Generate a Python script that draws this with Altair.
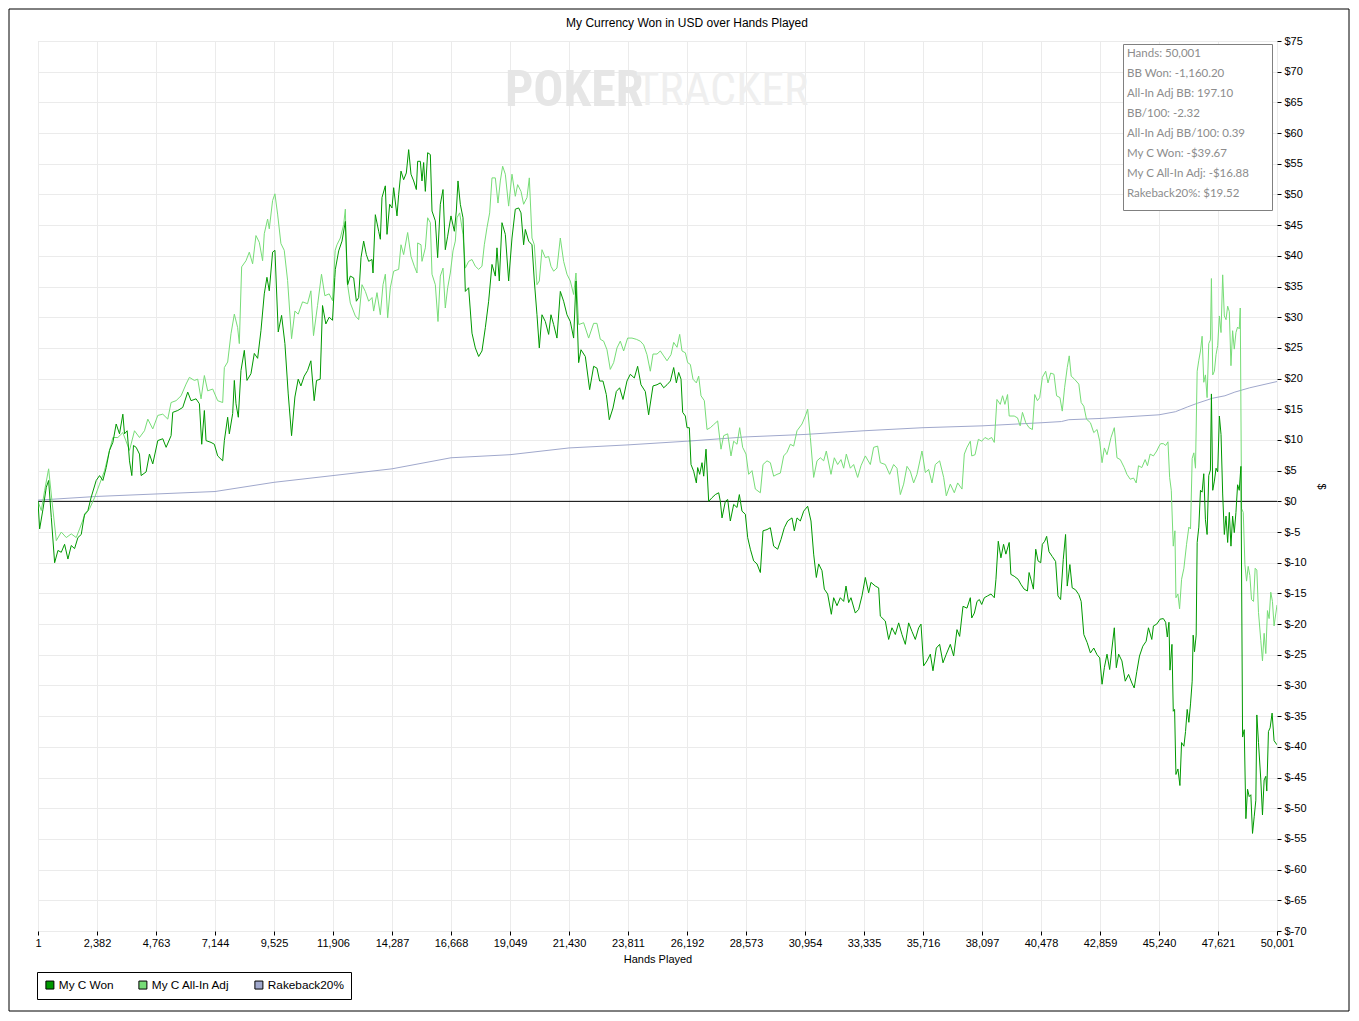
import altair as alt
import pandas as pd

series_names = ["My C Won", "My C All-In Adj", "Rakeback20%"]
series_colors = ["#009900", "#77DD77", "#A0A8CC"]

x_ticks = [1, 2382, 4763, 7144, 9525, 11906, 14287, 16668, 19049, 21430, 23811,
           26192, 28573, 30954, 33335, 35716, 38097, 40478, 42859, 45240, 47621, 50001]
y_ticks = list(range(-70, 80, 5))

stats_lines = ["Hands: 50,001", "BB Won: -1,160.20", "All-In Adj BB: 197.10", "BB/100: -2.32",
               "All-In Adj BB/100: 0.39", "My C Won: -$39.67", "My C All-In Adj: -$16.88",
               "Rakeback20%: $19.52"]

# (hands, dollars)
won_points = [
    (1, 0), (67, -4.5), (201, -1.3), (336, 2.3), (430, 3.4), (537, -2.6), (672, -10), (806, -8), (940, -8.3),
    (1074, -7), (1209, -9.4), (1343, -7.2), (1477, -7.7), (1612, -5.9), (1746, -5.4), (1880, -2.1), (2015, -1.5),
    (2149, 0.7), (2350, 3.4), (2485, 4.2), (2619, 3.4), (2753, 5.5), (2887, 8.3), (3022, 9.6), (3156, 12.6),
    (3290, 11), (3425, 14.2), (3492, 11), (3599, 11.5), (3693, 6.6), (3787, 4.2), (3854, 9.1), (3962, 8.8),
    (4096, 7.7), (4163, 4.2), (4365, 4.8), (4499, 7.7), (4633, 6.1), (4835, 9.9), (5036, 10.2), (5171, 8.8),
    (5372, 10.7), (5439, 14.5), (5641, 14.8), (5842, 15.3), (6044, 17.8), (6178, 16.4), (6379, 16.7), (6514, 15.9),
    (6608, 9.3), (6715, 14.8), (6782, 9.9), (6984, 9.6), (7118, 9.3), (7252, 7.4), (7454, 6.6), (7521, 9.9),
    (7655, 13.7), (7722, 11), (7857, 14.3), (7924, 19.7), (7991, 15.9), (8085, 13.7), (8192, 21.3), (8327, 24.6),
    (8434, 19.7), (8595, 20.8), (8730, 24.1), (8864, 23.3), (8998, 27.8), (9132, 33.8), (9240, 36.5), (9334, 34.3),
    (9468, 40.6), (9562, 40.9), (9696, 27.6), (9831, 30.3), (9965, 25.7), (10099, 17.5), (10234, 10.7), (10368, 17),
    (10502, 19.9), (10610, 18.8), (10744, 20.4), (10878, 21.3), (11013, 22.9), (11147, 16.4), (11241, 19.7),
    (11389, 19.9), (11483, 31.9), (11617, 28.9), (11751, 30), (11886, 29.5), (11980, 36.5),
    (12000, 37.8), (12135, 40.8), (12269, 42.4), (12404, 45.6), (12498, 35.3), (12605, 36.7), (12740, 36.4),
    (12848, 32.6), (12942, 33.2), (13036, 39.7), (13143, 42.4), (13251, 40.2), (13345, 39.1), (13480, 39.4),
    (13520, 37.2), (13614, 46.7), (13749, 44), (13816, 42.7), (13883, 49.5), (14018, 51.4), (14085, 43.5),
    (14193, 48.4), (14287, 47.8), (14354, 51.1), (14488, 46.5), (14556, 50), (14650, 53.8), (14757, 52.4),
    (14865, 53.5), (14959, 57.3), (15053, 53.3), (15161, 52.2), (15269, 50.8), (15322, 55.4), (15430, 55.4),
    (15497, 52.2), (15564, 55.2), (15632, 50.5), (15726, 56.8), (15834, 56.5), (15901, 47.3), (16035, 45.7),
    (16129, 39.7), (16237, 48.4), (16345, 50.8), (16438, 41), (16533, 43.2), (16667, 46.5), (16802, 44),
    (16883, 47.3), (16950, 52.2), (17044, 48.4), (17152, 46.2), (17246, 34.2), (17380, 34.8), (17515, 27.4),
    (17649, 25), (17784, 23.6), (17918, 24.5), (18053, 28.3), (18187, 32.6), (18322, 38.6), (18456, 36.7),
    (18523, 41.3), (18617, 35.9), (18725, 45.4), (18860, 43.5), (18994, 35.9), (19129, 42.9), (19263, 47.6),
    (19398, 47.8), (19492, 47), (19599, 41.8), (19667, 44.3), (19801, 42.4), (19936, 41.8), (20030, 35.9),
    (20137, 30.4), (20231, 25), (20339, 30.4), (20474, 29.3), (20608, 27.2), (20702, 30.4), (20810, 28.8),
    (20944, 26.6), (21079, 34.2), (21213, 32.6), (21348, 30.4), (21482, 29.3), (21617, 26.6), (21711, 35.9),
    (21819, 22.6), (21913, 24.7), (22088, 23.6), (22263, 18.2), (22424, 22), (22558, 21.7), (22666, 19.6),
    (22801, 19.6), (22935, 17.4), (23056, 13.3), (23204, 15.2), (23339, 17.9), (23473, 18.5), (23608, 16.6),
    (23769, 19.6), (23904, 20.7), (24065, 20.1), (24199, 22), (24334, 19), (24509, 17.9), (24643, 14.1),
    (24820, 18.8), (24982, 19), (25116, 19.3), (25251, 18.5), (25385, 19), (25520, 19.6), (25654, 21.8),
    (25762, 19.3), (25856, 21), (25950, 19.9), (26017, 14.5), (26125, 13.9), (26192, 12), (26286, 12),
    (26353, 6), (26461, 4.9), (26569, 3), (26622, 5.5), (26703, 4.4), (26797, 6.3), (26865, 4.1), (26959, 8.5),
    (27066, 0), (27201, 0.6), (27335, 1.1), (27470, 1.4), (27537, 0), (27604, -2.7), (27739, 0), (27833, 0.3),
    (27940, -3.2), (28075, -0.5), (28210, -1), (28304, 1.1), (28411, -1.6), (28546, -2.1), (28640, -5.9),
    (28748, -7.8), (28882, -9.7), (29017, -10.2), (29151, -11.6), (29259, -4.8), (29420, -4.6), (29555, -4.3),
    (29689, -7.3), (29851, -7.8), (29985, -6.2), (30119, -4.3), (30254, -3.2), (30429, -2.7), (30523, -4.8),
    (30631, -2.7), (30765, -3.2), (30900, -1.6), (31061, -0.8), (31195, -3.2), (31303, -8.6), (31411, -12.4),
    (31505, -10.2), (31639, -11.3), (31733, -14.3), (31868, -15.1), (32016, -18.4), (32110, -15.7), (32245, -17),
    (32379, -15.7), (32514, -16.3), (32608, -13.8), (32715, -16.5), (32809, -15.7), (32984, -18.2), (33119, -17.6),
    (33253, -15.4), (33388, -12.4), (33522, -14.9), (33616, -13.2), (33791, -13.8), (33926, -14.1), (33993, -18.7),
    (34194, -19.5), (34329, -22.5), (34463, -20.6), (34598, -21.7), (34733, -19.8), (34867, -21.7), (35002, -23.3),
    (35136, -19.8), (35271, -21.2), (35405, -22.5), (35540, -20.6), (35634, -20), (35742, -26.8), (35876, -26),
    (36011, -24.9), (36118, -27.6), (36253, -23.9), (36387, -23.3), (36522, -26.3), (36656, -24.9), (36818, -23.3),
    (36952, -25.2), (37087, -20.9), (37194, -22), (37329, -17.1), (37490, -17.4), (37625, -15.7),
    (37682, -19), (37789, -18.2), (37896, -16.3), (37990, -16), (38084, -16.8), (38191, -15.7), (38324, -15.4),
    (38458, -15.1), (38592, -15.7), (38659, -12.7), (38753, -6.5), (38860, -9.2), (38967, -7), (39060, -8.6),
    (39194, -6.7), (39261, -11.9), (39395, -12.2), (39555, -12.7), (39663, -13.5), (39796, -14.3), (39930, -14.6),
    (39997, -11.6), (40091, -13), (40171, -14.3), (40265, -7.8), (40358, -9.7), (40465, -10), (40532, -7),
    (40626, -6.5), (40706, -5.7), (40800, -8.2), (40934, -9), (41067, -9.8), (41161, -15.4), (41268, -16),
    (41375, -9.5), (41469, -5.4), (41536, -13.8), (41643, -10.3), (41736, -14.1), (41870, -14.4), (42004, -15.2),
    (42098, -16.3), (42205, -21.7), (42339, -23), (42472, -24.7), (42606, -23.9), (42740, -25), (42847, -25.5),
    (42941, -29.8), (43034, -27.1), (43141, -24.9), (43248, -27.4), (43342, -23.9), (43436, -20.6), (43516, -27.1),
    (43610, -24.9), (43743, -26), (43877, -29.3), (44011, -28.2), (44145, -29.6), (44238, -30.4), (44345, -27.7),
    (44452, -25.2), (44586, -23.6), (44720, -22.8), (44814, -20.6), (44948, -22.5), (45014, -20.3), (45148, -20),
    (45282, -19.2),
    (45414, -19.1), (45508, -19.7), (45575, -22.1), (45641, -19.7), (45682, -27.5), (45762, -23.3), (45815, -34.2),
    (45869, -33.9), (45922, -44.5), (46003, -43.6), (46083, -46.3), (46150, -39.3), (46244, -39.9), (46310, -37.5),
    (46377, -33.9), (46444, -36), (46511, -33), (46578, -29.3), (46618, -21.8), (46672, -24.5), (46739, -21.8),
    (46779, -6.7), (46846, -4.2), (46913, 1.8), (46979, 1.5), (47046, 4.5), (47113, -3), (47180, -5.4),
    (47247, 4.2), (47314, 5.1), (47354, 17.5), (47408, 1.8), (47474, 3.3), (47541, 5.4), (47608, 4.8),
    (47675, 13.9), (47742, 10.9), (47809, 1.2), (47876, -5.4), (47943, -2.4), (48010, -6.7), (48077, -1.8),
    (48143, -7.3), (48210, -2.4), (48277, -5.1), (48344, -1.8), (48411, 2.7), (48478, 1.8), (48545, 5.7),
    (48612, -38.4), (48679, -37.2), (48746, -51.7), (48813, -46.9), (48879, -48.1), (48946, -47.8), (49013, -54.1),
    (49080, -51.4), (49147, -48.7), (49187, -34.8), (49254, -39.3), (49348, -45.4), (49415, -51.1), (49482, -45.4),
    (49549, -44.8), (49589, -47.2), (49656, -37.5), (49723, -36.9), (49803, -34.5), (49883, -39), (50001, -39.67),
]

adj_points = [
    (1, 0), (134, -1.5), (269, 1.8), (430, 5.3), (564, 0.1), (739, -6.4), (940, -5), (1142, -5.9), (1343, -5.3),
    (1544, -5.9), (1679, -4.5), (1880, -2.3), (2082, -1.2), (2283, 0.6), (2485, 2.8), (2686, 5), (2887, 8.3),
    (3022, 10.4), (3223, 10.4), (3425, 11.2), (3693, 8.3), (3895, 11.5), (4096, 10.4), (4298, 11.5), (4432, 13.4),
    (4633, 11.8), (4835, 14), (5036, 14.2), (5238, 13.4), (5372, 16.1), (5573, 16.4), (5775, 17.2), (5976, 19.1),
    (6111, 20.2), (6312, 19.7), (6446, 19.9), (6581, 16.7), (6715, 20.5), (6849, 18), (7051, 18.3), (7252, 16.4),
    (7454, 16.1), (7521, 21.8), (7655, 22.7), (7789, 27.3), (7924, 30.5), (8058, 28.3), (8125, 25.7), (8219, 38.2),
    (8394, 39.2), (8528, 40.6), (8662, 38.7), (8797, 43.3), (8931, 42.2), (9065, 39.2), (9132, 43.6), (9267, 46),
    (9334, 44.4), (9468, 49), (9562, 50.1), (9670, 46.8), (9804, 42), (9938, 40.9), (10073, 36), (10234, 26.5),
    (10368, 31), (10502, 30.5), (10677, 32.5), (10878, 32.2), (11013, 34.3), (11120, 27), (11281, 31.9),
    (11442, 37), (11577, 33.5), (11751, 33.8), (11886, 32.7), (11993, 40.9),
    (12067, 41.8), (12202, 42.9), (12336, 45.1), (12404, 47.6), (12471, 35.9), (12605, 32.3), (12807, 30.2),
    (12942, 29.6), (13076, 35.3), (13211, 34.2), (13345, 32.6), (13480, 33.2), (13547, 31), (13681, 34),
    (13816, 30.4), (13924, 35.3), (14018, 37), (14112, 29.9), (14219, 34.8), (14354, 37.5), (14556, 37.8),
    (14650, 41.8), (14757, 40.2), (14919, 43.8), (15053, 39.9), (15188, 38.3), (15295, 37.2), (15322, 42.1),
    (15457, 41.8), (15497, 39.1), (15632, 41.3), (15726, 46.2), (15834, 45.4), (15901, 37), (16035, 35.3),
    (16143, 29.3), (16237, 36.7), (16345, 38), (16438, 31.5), (16533, 34.8), (16640, 37.2), (16748, 40.8),
    (16842, 42.4), (16909, 46.2), (17017, 47), (17152, 43.5), (17246, 38), (17380, 39.1), (17515, 39.4),
    (17649, 38.3), (17784, 37.8), (17918, 38.3), (18012, 41.8), (18120, 44.6), (18228, 47), (18322, 52.7),
    (18456, 52.7), (18564, 48.6), (18658, 52.2), (18752, 54.6), (18860, 53.3), (18994, 48.1), (19129, 53.3),
    (19263, 49.7), (19357, 51.6), (19492, 50.5), (19599, 48.4), (19734, 49.5), (19828, 52.7), (19936, 42.9),
    (20030, 41.8), (20137, 35.3), (20231, 35.9), (20339, 41), (20474, 39.7), (20608, 39.9), (20702, 38.3),
    (20810, 37.5), (20944, 38), (21079, 42.9), (21213, 39.1), (21348, 37), (21482, 35.9), (21617, 33.7),
    (21711, 37.2), (21819, 28.8), (22020, 29.1), (22222, 26.6), (22424, 29), (22558, 29), (22693, 26.4),
    (22827, 26.1), (22962, 24.7), (23096, 21.5), (23231, 22.6), (23366, 25), (23500, 26.1), (23635, 24.5),
    (23796, 26.6), (23971, 26.6), (24146, 26.4), (24307, 26.1), (24441, 25.5), (24576, 23.9), (24711, 21.2),
    (24820, 24), (24982, 24), (25116, 24.5), (25251, 23.7), (25385, 22.9), (25546, 23.9), (25654, 25.9),
    (25789, 25.1), (25896, 27.2), (25990, 24.5), (26125, 24.2), (26219, 22.6), (26327, 22.3), (26434, 19.9),
    (26569, 19.3), (26663, 20.4), (26757, 17.2), (26891, 16.4), (26999, 11.7), (27133, 12), (27268, 12.5),
    (27429, 13.1), (27564, 8.5), (27672, 10.7), (27833, 11), (27967, 7.4), (28075, 9.8), (28210, 9.3),
    (28317, 12), (28438, 8.8), (28573, 7.7), (28680, 4.4), (28815, 5), (28949, 2), (29151, 1.4), (29259, 6),
    (29420, 6.6), (29555, 6.3), (29689, 4.1), (29824, 4.4), (29958, 4.6), (30093, 7.4), (30227, 8), (30362, 9.3),
    (30496, 9), (30631, 11.5), (30832, 12.6), (30967, 13.9), (31061, 15), (31169, 10.4), (31303, 3.9),
    (31438, 6.6), (31572, 7.1), (31707, 6.6), (31814, 8.2), (32002, 4.4), (32137, 7.1), (32271, 6), (32406, 6.8),
    (32514, 5.4), (32621, 7.7), (32783, 5.4), (32917, 6), (33078, 3.9), (33213, 5.8), (33388, 7.4), (33590, 6),
    (33724, 8.8), (33885, 9), (33993, 6.3), (34194, 6), (34369, 4.4), (34530, 6), (34665, 5.4), (34800, 1.1),
    (34934, 2.8), (35069, 5.7), (35203, 4.9), (35338, 3), (35472, 4.4), (35674, 8.2), (35809, 4.7), (35943, 5.2),
    (36078, 3), (36212, 6), (36387, 6.6), (36549, 3.9), (36656, 0.9), (36818, 2.8), (36979, 1.4), (37114, 3),
    (37289, 2), (37383, 7.7), (37490, 8.8), (37625, 9.8),
    (37682, 7.4), (37816, 7.6), (37950, 10.1), (38084, 9.8), (38217, 10.4), (38351, 10.1), (38485, 10.4),
    (38592, 9.6), (38699, 16.6), (38833, 15.8), (38927, 17.2), (39020, 15.8), (39127, 17.4), (39194, 13.9),
    (39395, 13.9), (39529, 13.6), (39636, 12.3), (39729, 14.5), (39863, 12.8), (39997, 12), (40131, 11.7),
    (40225, 17.4), (40332, 16.4), (40425, 16.9), (40532, 20.2), (40666, 21.2), (40760, 19.3), (40867, 20.9),
    (41000, 20.7), (41107, 17.2), (41241, 16.9), (41335, 14.7), (41429, 18.5), (41536, 21.8), (41616, 23.7),
    (41696, 20.4), (41830, 19.9), (42004, 19.1), (42098, 16.1), (42205, 15.5), (42312, 13.4), (42472, 12.8),
    (42606, 11.2), (42740, 11.7), (42847, 9.8), (42941, 6.3), (43034, 8.7), (43141, 7.6), (43302, 10.4),
    (43436, 12), (43543, 7.1), (43677, 6.8), (43837, 5.5), (43944, 4.4), (44078, 3.6), (44212, 3.8), (44319, 3),
    (44412, 5.8), (44546, 5.5), (44680, 6.8), (44774, 5.8), (44881, 7.7), (45014, 7.4), (45148, 8.2), (45242, 9),
    (45307, 9.4), (45414, 9.4), (45508, 9.1), (45601, 9.7), (45668, 3.9), (45735, 1.8), (45815, -7.3),
    (45882, -4.8), (45922, -15.7), (46003, -15.1), (46070, -17.5), (46150, -12.7), (46244, -10.9), (46351, -7),
    (46444, -4.2), (46511, -4.5), (46578, 7), (46645, 7.9), (46712, 5.4), (46779, 21.2), (46846, 23),
    (46913, 24.5), (46979, 26.9), (47046, 19.4), (47113, 20.6), (47180, 16.9), (47247, 25.7), (47314, 26.3),
    (47354, 36.3), (47408, 20.6), (47474, 21.2), (47541, 23.9), (47608, 25.4), (47675, 30.2), (47742, 27.5),
    (47809, 36.9), (47876, 30.2), (47943, 29.6), (48010, 31.8), (48077, 30.9), (48143, 22.1), (48210, 27.8),
    (48277, 24.8), (48344, 27.5), (48411, 28.4), (48478, 28.1), (48518, 31.5), (48572, -1.2), (48639, -1.8),
    (48706, -10.3), (48773, -13), (48839, -10.6), (48906, -12.1), (48973, -16), (49053, -16.3), (49120, -10.9),
    (49187, -11.2), (49254, -18.1), (49348, -22.7), (49415, -26), (49482, -21.5), (49549, -24.8), (49616, -17.8),
    (49683, -19.1), (49750, -14.8), (49817, -16.3), (49883, -20.3), (50001, -16.88),
]

rakeback_points = [
    (1, 0.2), (2382, 0.8), (4763, 1.2), (7144, 1.6), (9525, 3.1), (11906, 4.2), (14287, 5.3), (16668, 7.1),
    (19049, 7.6), (21430, 8.7), (23811, 9.2), (26192, 9.8), (28573, 10.5), (30954, 10.9), (33335, 11.5),
    (35716, 12), (38097, 12.3), (40478, 12.8), (41300, 13.0), (41600, 13.3), (42859, 13.5), (45240, 14.1),
    (45900, 14.6), (46400, 15.4), (46800, 16), (47400, 16.8), (47900, 17.2), (48300, 17.8), (48900, 18.5),
    (50001, 19.52),
]

frames = []
for name, pts in zip(series_names, [won_points, adj_points, rakeback_points]):
    d = pd.DataFrame(pts, columns=["hands", "value"])
    d["series"] = name
    frames.append(d)
df = pd.concat(frames, ignore_index=True)

FONT = "Liberation Sans"
WM_FONT = "Liberation Sans Narrow, Roboto Condensed, Liberation Sans"

x_enc = alt.X("hands:Q",
              scale=alt.Scale(domain=[1, 50001], nice=False, zero=False),
              axis=alt.Axis(values=x_ticks, labelExpr="format(datum.value, ',')", grid=True,
                            gridColor="#EBEBEB", domain=False, ticks=True, tickSize=4, tickColor="black",
                            labelFont=FONT, labelFontSize=11, labelColor="black", labelPadding=2,
                            labelFlush=False, labelOverlap=False, title="Hands Played", titleFont=FONT,
                            titleFontSize=11, titleFontWeight="normal", titleColor="black", titlePadding=5))
y_enc = alt.Y("value:Q",
              scale=alt.Scale(domain=[-70, 75], nice=False, zero=False),
              axis=alt.Axis(orient="right", values=y_ticks, tickCount=30, labelExpr="'$' + datum.value",
                            grid=True, gridColor="#EBEBEB", domain=False, ticks=True, tickSize=4,
                            tickColor="black", labelFont=FONT, labelFontSize=11, labelColor="black",
                            labelPadding=3, labelOverlap=False, labelFlush=False, title="$", titleFont=FONT,
                            titleFontSize=11, titleFontWeight="normal", titleColor="black", titlePadding=9))

# one line layer per series (rakeback underneath, "My C Won" on top)
line_layers = []
for name, color in reversed(list(zip(series_names, series_colors))):
    line_layers.append(
        alt.Chart(df).transform_filter(alt.datum.series == name)
        .mark_line(strokeWidth=1, clip=True, color=color)
        .encode(x=x_enc, y=y_enc)
    )

# legend carrier: the first point of each series, drawn fully transparent
legend_df = df.groupby("series", sort=False).head(1).rename(columns={"series": "key"})
legend_layer = alt.Chart(legend_df).mark_square(filled=True, opacity=0).encode(
    x=x_enc, y=y_enc,
    fill=alt.Fill("key:N", scale=alt.Scale(domain=series_names, range=series_colors),
                  legend=alt.Legend(orient="none", legendX=-1, legendY=931, direction="horizontal",
                                    title=None, strokeColor="black", fillColor="white", padding=7,
                                    symbolType="square", symbolSize=64, symbolStrokeColor="black",
                                    symbolStrokeWidth=1, symbolOpacity=1, labelFont=FONT, labelFontSize=11.8,
                                    labelColor="black", labelOffset=3, columnPadding=22)),
)

zero_rule = alt.Chart(pd.DataFrame({"value": [0]})).mark_rule(color="black", strokeWidth=1).encode(
    y=y_enc)

wm_poker = alt.Chart(pd.DataFrame({"t": ["POKER"]})).mark_text(
    font=WM_FONT, fontSize=50, fontWeight="bold",
    color="#E6E6E6", align="right", baseline="middle").encode(
    x=alt.datum(24430), y=alt.datum(66.8), text="t:N")
wm_tracker = alt.Chart(pd.DataFrame({"t": ["TRACKER"]})).mark_text(
    font=WM_FONT, fontSize=46, fontWeight="normal",
    color="#EFEFEF", align="left", baseline="middle").encode(
    x=alt.datum(24110), y=alt.datum(66.8), text="t:N")

# stats panel: a legend whose multi-line title carries the summary figures
stats = alt.Chart(pd.DataFrame({"k": ["stats"]})).mark_point(opacity=0, size=0).encode(
    shape=alt.Shape("k:N",
                    legend=alt.Legend(orient="none", legendX=1085, legendY=3, title=stats_lines,
                                      titleFont="Lato", titleFontSize=11.5, titleColor="#8C8C8C",
                                      titleFontWeight="normal", titleLineHeight=20, titlePadding=0,
                                      titleLimit=0, titleBaseline="top",
                                      strokeColor="#808080", fillColor="white", padding=4,
                                      symbolSize=0, symbolOpacity=0, symbolStrokeWidth=0,
                                      labelFontSize=7, labelOpacity=0, labelLimit=134,
                                      labelExpr="'" + "M" * 60 + "'", rowPadding=0)))

frame = alt.Chart(pd.DataFrame({"a": [0]})).mark_rect(
    fillOpacity=0, stroke="black", strokeWidth=1, clip=False).encode(
    x=alt.value(-29), x2=alt.value(1311), y=alt.value(-32), y2=alt.value(970))

chart = alt.layer(frame, wm_poker, wm_tracker, zero_rule, *line_layers, legend_layer, stats).properties(
    width=1239, height=890, padding=0,
    title=alt.Title("My Currency Won in USD over Hands Played", font=FONT, fontSize=12,
                    fontWeight="normal", color="black", anchor="middle", frame="bounds", offset=-21, dx=8),
).configure_view(stroke="black", strokeWidth=1).configure(background="white")

chart.save("out.html", embed_options={"renderer": "svg", "actions": False})
